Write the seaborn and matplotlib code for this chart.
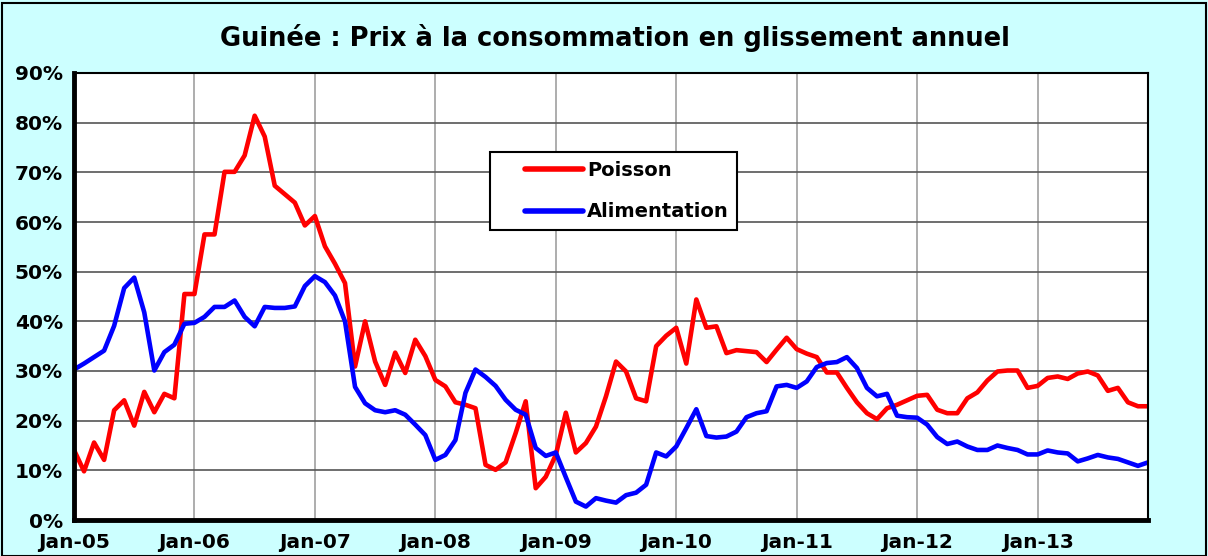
# Guinée : prix à la consommation en glissement annuel (Poisson vs Alimentation)

import pandas as pd
import matplotlib
matplotlib.use("Agg")
import matplotlib.pyplot as plt
from matplotlib.ticker import PercentFormatter, MultipleLocator
from matplotlib.patches import Rectangle
import seaborn as sns

# Monthly data, Jan-05 .. Dec-13 (in %)
months = pd.date_range("2005-01-01", "2013-12-01", freq="MS").strftime("%b-%y").tolist()

poisson = [
    14.1, 9.8, 15.6, 12.1, 22.1, 24.1, 19.0, 25.8, 21.7, 25.4, 24.5, 45.5,
    45.5, 57.5, 57.5, 70.1, 70.1, 73.4, 81.4, 77.2, 67.3, 65.6, 63.9, 59.3,
    61.2, 55.1, 51.6, 47.7, 30.9, 40.0, 31.9, 27.2, 33.7, 29.6, 36.3, 33.0,
    28.2, 26.9, 23.7, 23.2, 22.5, 11.1, 10.1, 11.6, 17.5, 23.9, 6.4, 8.7,
    13.1, 21.6, 13.6, 15.5, 18.8, 24.9, 31.9, 29.9, 24.5, 23.9, 35.0, 37.1,
    38.7, 31.5, 44.4, 38.7, 39.0, 33.6, 34.2, 34.0, 33.8, 31.8, 34.3, 36.7,
    34.4, 33.5, 32.8, 29.7, 29.7, 26.6, 23.7, 21.5, 20.3, 22.5, 23.2, 24.1,
    25.0, 25.2, 22.2, 21.5, 21.5, 24.5, 25.7, 28.1, 29.9, 30.1, 30.1, 26.6,
    27.0, 28.6, 28.9, 28.4, 29.5, 29.9, 29.1, 26.0, 26.6, 23.7, 22.9, 22.9,
]

alimentation = [
    30.3, 31.5, 32.8, 34.1, 39.1, 46.7, 48.8, 41.8, 30.1, 33.8, 35.3, 39.5,
    39.7, 40.9, 42.9, 42.9, 44.2, 40.9, 39.0, 42.9, 42.7, 42.7, 43.0, 47.1,
    49.1, 47.9, 45.2, 40.0, 26.8, 23.5, 22.1, 21.7, 22.1, 21.2, 19.2, 17.1,
    12.1, 13.1, 16.1, 25.6, 30.3, 28.8, 27.0, 24.2, 22.2, 21.2, 14.5, 12.9,
    13.6, 8.6, 3.7, 2.7, 4.4, 3.9, 3.5, 5.0, 5.5, 7.1, 13.6, 12.8,
    14.8, 18.5, 22.3, 16.9, 16.6, 16.8, 17.8, 20.7, 21.5, 21.9, 26.9, 27.2,
    26.6, 27.9, 30.8, 31.6, 31.8, 32.8, 30.6, 26.6, 24.9, 25.4, 21.0, 20.7,
    20.6, 19.2, 16.7, 15.3, 15.8, 14.8, 14.1, 14.1, 15.0, 14.5, 14.1, 13.2,
    13.2, 14.0, 13.6, 13.4, 11.8, 12.4, 13.1, 12.6, 12.3, 11.6, 10.9, 11.6,
]

series_names = ["Poisson", "Alimentation"]
colors = {"Poisson": "#ff0000", "Alimentation": "#0000ff"}

df = pd.DataFrame({"month": range(len(months)), "Poisson": poisson, "Alimentation": alimentation})
long_df = df.melt(id_vars="month", value_vars=series_names, var_name="serie", value_name="valeur")

sns.set_style("white")
plt.rcParams["font.family"] = ["DejaVu Sans"]
plt.rcParams["font.weight"] = "bold"
plt.rcParams["text.color"] = "black"
plt.rcParams["xtick.color"] = "black"
plt.rcParams["ytick.color"] = "black"

fig = plt.figure(figsize=(12.08, 5.56), dpi=100, facecolor="#ccffff")
ax = fig.add_axes([74 / 1208, 1 - 520 / 556, (1148 - 74) / 1208, (520 - 73) / 556])
ax.set_facecolor("white")

sns.lineplot(data=long_df, x="month", y="valeur", hue="serie", palette=colors,
             linewidth=3.3, ax=ax, legend=True)

ax.set_xlim(0, len(months) - 1)
ax.set_ylim(0, 90)
ax.yaxis.set_major_locator(MultipleLocator(10))
ax.yaxis.set_major_formatter(PercentFormatter(decimals=0))
ax.set_xticks(range(0, len(months), 12))
ax.set_xticklabels(months[::12])
ax.set_xlabel("")
ax.set_ylabel("")

ax.grid(axis="y", color="#555555", linewidth=1.2)
ax.grid(axis="x", color="#a0a0a0", linewidth=1.2)
ax.set_axisbelow(True)

for side in ["top", "right"]:
    ax.spines[side].set_color("black")
    ax.spines[side].set_linewidth(1.5)
for side in ["left", "bottom"]:
    ax.spines[side].set_color("black")
    ax.spines[side].set_linewidth(3.5)

ax.tick_params(axis="y", direction="out", length=6, width=3, labelsize=14.5, pad=2)
ax.tick_params(axis="x", direction="out", length=5, width=3, labelsize=14.5, pad=4)
for lbl in ax.get_xticklabels() + ax.get_yticklabels():
    lbl.set_fontweight("bold")
    lbl.set_color("black")

handles, labels = ax.get_legend_handles_labels()
leg = ax.legend(handles, labels, loc="upper left", bbox_to_anchor=(0.387, 0.823),
                frameon=True, fancybox=False, framealpha=1, edgecolor="black",
                prop={"weight": "bold", "size": 14}, handlelength=4.35,
                labelspacing=1.16, borderpad=0.45, handletextpad=0.2,
                borderaxespad=0)
leg.get_frame().set_linewidth(1.5)
for h in leg.get_lines():
    h.set_linewidth(4)
    xd, yd = h.get_xdata(), h.get_ydata()
    h.set_data([xd[0] + (xd[-1] - xd[0]) * 0.31, xd[-1]], [yd[0], yd[-1]])
for t in leg.get_texts():
    t.set_color("black")

fig.text(0.509, 1 - 38 / 556, "Guinée : Prix à la consommation en glissement annuel",
         ha="center", va="center", fontsize=18.5, fontweight="bold", color="black")

fig.patches.append(Rectangle((0.002, 0.0), 0.996, 0.995, transform=fig.transFigure,
                             fill=False, edgecolor="black", linewidth=1.5))

fig.savefig("out.png", dpi=100, facecolor=fig.get_facecolor())
